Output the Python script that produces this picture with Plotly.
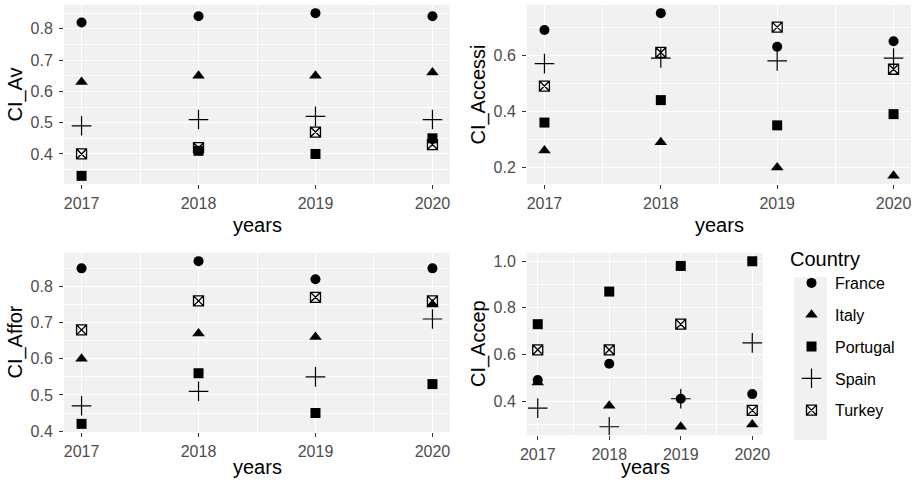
import plotly.graph_objects as go

years = [2017, 2018, 2019, 2020]
countries = ["France", "Italy", "Portugal", "Spain", "Turkey"]

ci_av = {
    "France":   [0.82, 0.84, 0.85, 0.84],
    "Italy":    [0.63, 0.65, 0.65, 0.66],
    "Portugal": [0.33, 0.41, 0.40, 0.45],
    "Spain":    [0.49, 0.51, 0.52, 0.51],
    "Turkey":   [0.40, 0.42, 0.47, 0.43],
}
ci_accessi = {
    "France":   [0.69, 0.75, 0.63, 0.65],
    "Italy":    [0.26, 0.29, 0.20, 0.17],
    "Portugal": [0.36, 0.44, 0.35, 0.39],
    "Spain":    [0.57, 0.59, 0.58, 0.59],
    "Turkey":   [0.49, 0.61, 0.70, 0.55],
}
ci_affor = {
    "France":   [0.85, 0.87, 0.82, 0.85],
    "Italy":    [0.60, 0.67, 0.66, 0.75],
    "Portugal": [0.42, 0.56, 0.45, 0.53],
    "Spain":    [0.47, 0.51, 0.55, 0.71],
    "Turkey":   [0.68, 0.76, 0.77, 0.76],
}
ci_accep = {
    "France":   [0.49, 0.56, 0.41, 0.43],
    "Italy":    [0.48, 0.38, 0.29, 0.30],
    "Portugal": [0.73, 0.87, 0.98, 1.00],
    "Spain":    [0.37, 0.29, 0.41, 0.65],
    "Turkey":   [0.62, 0.62, 0.73, 0.36],
}

panels = [
    ("CI_Av", ci_av, 0.1),
    ("CI_Accessi", ci_accessi, 0.2),
    ("CI_Affor", ci_affor, 0.1),
    ("CI_Accep", ci_accep, 0.2),
]

W, H = 916, 486
# panel boxes in pixels: (left, right, top, bottom), and x-title centre y
boxes = [
    (64, 450, 5, 184, 225),
    (527, 911, 5, 184, 225),
    (64, 450, 253, 432, 467),
    (527, 763, 253, 435, 467),
]

symbols = {
    "France": dict(symbol="circle", size=10, line=dict(width=0)),
    "Italy": dict(symbol="triangle-up", size=11, line=dict(width=0)),
    "Portugal": dict(symbol="square", size=10, line=dict(width=0)),
    "Spain": dict(symbol="cross-thin-open", size=14, line=dict(width=1.2, color="black")),
    "Turkey": dict(symbol="square-x-open", size=10, line=dict(width=1.3, color="black")),
}

FONT = "Liberation Sans, Arial"
BG = "#F1F1F1"
fig = go.Figure()
layout = {}
annotations = []

for i, (name, data, dt) in enumerate(panels):
    ax = "" if i == 0 else str(i + 1)
    for c in countries:
        m = dict(symbols[c])
        m["color"] = "black"
        fig.add_trace(go.Scatter(
            x=years, y=data[c], mode="markers", name=c,
            marker=m, xaxis="x" + ax, yaxis="y" + ax,
            showlegend=(i == 0), legendgroup=c,
        ))
    vals = [v for c in countries for v in data[c]]
    lo, hi = min(vals), max(vals)
    pad = (hi - lo) * 0.05
    xlo, xhi = min(years), max(years)
    xpad = (xhi - xlo) * 0.05
    l, r, t, b, ty = boxes[i]
    common = dict(
        showline=False, zeroline=False, ticks="outside", ticklen=4,
        tickcolor="#333333", tickwidth=1, automargin=False,
        tickfont=dict(family=FONT, size=16, color="#4D4D4D"),
        showgrid=True, gridcolor="white", gridwidth=1.3,
    )
    layout["xaxis" + ax] = dict(
        common, domain=[l / W, r / W], anchor="y" + ax,
        range=[xlo - xpad, xhi + xpad], tickmode="array", tickvals=years,
        minor=dict(showgrid=True, gridcolor="white", gridwidth=0.6, tickmode="array",
                   tickvals=[y + 0.5 for y in years[:-1]]),
        ticklabelstandoff=1,
    )
    layout["yaxis" + ax] = dict(
        common, domain=[1 - b / H, 1 - t / H], anchor="x" + ax,
        range=[lo - pad, hi + pad], dtick=dt, tick0=0, tickformat=".1f",
        minor=dict(showgrid=True, gridcolor="white", gridwidth=0.6, dtick=dt / 2, tick0=0),
        ticklabelstandoff=3,
    )
    fig.add_shape(type="rect", xref="paper", yref="paper",
                  x0=l / W, x1=r / W, y0=1 - b / H, y1=1 - t / H,
                  fillcolor=BG, line=dict(width=0), layer="below")
    annotations.append(dict(
        text="years", xref="paper", yref="paper", x=(l + r) / 2 / W,
        y=1 - ty / H, showarrow=False, xanchor="center", yanchor="middle",
        font=dict(family=FONT, size=20, color="black")))
    annotations.append(dict(
        text=name, xref="paper", yref="paper", x=(l - 49) / W,
        y=1 - (t + b) / 2 / H, showarrow=False, xanchor="center", yanchor="middle",
        textangle=-90,
        font=dict(family=FONT, size=20, color="black")))

# legend key background
fig.add_shape(type="rect", xref="paper", yref="paper",
              x0=794 / W, x1=827 / W, y0=1 - 440 / H, y1=1 - 277 / H,
              fillcolor=BG, line=dict(width=0), layer="below")

fig.update_layout(
    width=W, height=H, margin=dict(l=0, r=0, t=0, b=0, autoexpand=False),
    paper_bgcolor="white", plot_bgcolor="rgba(0,0,0,0)",
    annotations=annotations,
    legend=dict(
        x=788 / W, y=1 - 240 / H, xanchor="left", yanchor="top",
        bgcolor="rgba(0,0,0,0)", tracegroupgap=8, itemwidth=37,
        font=dict(family=FONT, size=16, color="black"),
        title=dict(text="Country", font=dict(family=FONT, size=20, color="black")),
    ),
    **layout,
)

fig.write_html("out.html", config={"displayModeBar": False},
               post_script="document.body.style.margin='0';")
